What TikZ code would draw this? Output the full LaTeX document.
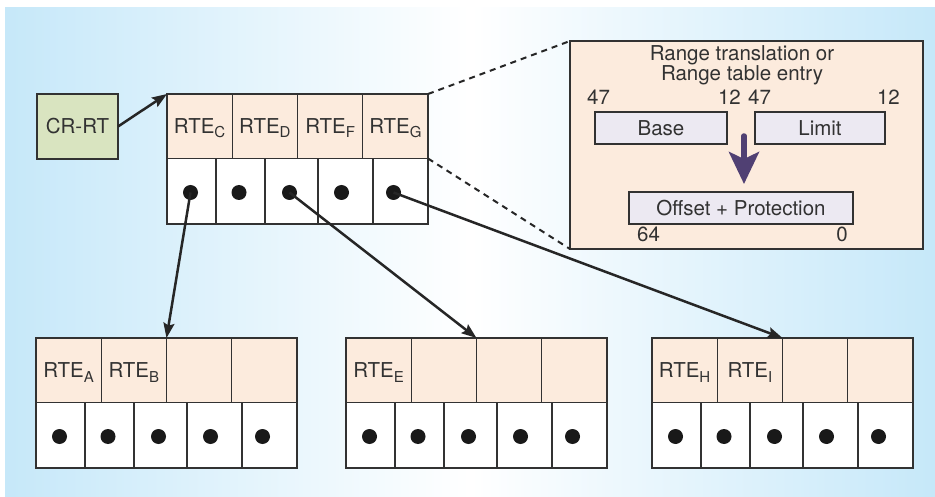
\documentclass[tikz,border=0pt]{standalone}
\usepackage{fontspec}
\setmainfont{TeX Gyre Heros}
\usetikzlibrary{arrows.meta}
\definecolor{bgblue}{RGB}{198,232,249}
\definecolor{peach}{RGB}{252,235,221}
\definecolor{crgreen}{RGB}{217,228,192}
\definecolor{lav}{RGB}{236,233,242}
\definecolor{purp}{RGB}{80,64,115}
\definecolor{ink}{RGB}{50,50,50}
\newcommand{\sbx}[1]{\raisebox{-4.5pt}{\fontsize{15}{15}\selectfont #1}}
\newcommand{\rtab}[7]{%
  \node[topcell] (#1t1) at (#2,#3) {#4};
  \node[topcell] (#1t2) at (#2+65.25,#3) {#5};
  \node[topcell] (#1t3) at (#2+130.5,#3) {#6};
  \node[topcell] (#1t4) at (#2+195.75,#3) {#7};
  \node[botcell, minimum width=49pt] (#1b1) at (#2,#3+64.5) {};
  \node[botcell, minimum width=49pt] (#1b2) at (#2+49,#3+64.5) {};
  \node[botcell, minimum width=53pt] (#1b3) at (#2+98,#3+64.5) {};
  \node[botcell, minimum width=55pt] (#1b4) at (#2+151,#3+64.5) {};
  \node[botcell, minimum width=55pt] (#1b5) at (#2+206,#3+64.5) {};
  \node[dot] (#1d1) at (#2+23.5,#3+98.5) {};
  \node[dot] (#1d2) at (#2+72,#3+98.5) {};
  \node[dot] (#1d3) at (#2+122.5,#3+98.5) {};
  \node[dot] (#1d4) at (#2+174.5,#3+98.5) {};
  \node[dot] (#1d5) at (#2+226.5,#3+98.5) {};
}
\begin{document}
\begin{tikzpicture}[x=1pt,y=-1pt, font=\fontsize{20.5}{20.5}\selectfont, text=ink,
  cell/.style={draw=ink, line width=1.3pt, inner sep=0pt, outer sep=0pt, anchor=north west},
  topcell/.style={cell, fill=peach, minimum width=65.25pt, minimum height=64.5pt, text height=14.5pt, text depth=0pt},
  botcell/.style={cell, fill=white, minimum height=65.5pt},
  dot/.style={circle, fill=black!90, inner sep=0pt, minimum size=15pt},
  conn/.style={-{Stealth[length=15pt,width=11pt,inset=2.5pt]}, line width=2.5pt, black!85},
  dashline/.style={line width=2pt, black!85, dash pattern=on 6pt off 5pt},
  fieldbox/.style={draw=ink, line width=1.3pt, fill=lav, inner sep=0pt, minimum height=32pt},
  lbl/.style={inner sep=0pt},
  parr/.style={-{Stealth[length=32pt,width=30pt,inset=7pt]}, line width=5.5pt, purp, line cap=round}
]
\useasboundingbox (0,0) rectangle (935,497);
\fill[white] (0,0) rectangle (935,497);
\shade[left color=bgblue, right color=bgblue, middle color=white] (5,8) rectangle (935,497);

\node[cell, fill=crgreen, minimum width=81pt, minimum height=65pt] (cr) at (37,94) {CR-RT};

\rtab{m}{167}{94}{RTE\sbx{C}}{RTE\sbx{D}}{RTE\sbx{F}}{RTE\sbx{G}}
\rtab{a}{36}{338}{RTE\sbx{A}}{RTE\sbx{B}}{}{}
\rtab{e}{346}{338}{RTE\sbx{E}}{}{}{}
\rtab{h}{652}{338}{RTE\sbx{H}}{RTE\sbx{I}}{}{}

% detail box
\node[cell, fill=peach, minimum width=353pt, minimum height=208pt] (detail) at (570,41) {};
\node[lbl, anchor=base] (title1) at (742,60.7) {Range translation or};
\node[lbl, anchor=base] (title2) at (742,80.7) {Range table entry};
\node[lbl, anchor=base west] (n47a) at (587,105) {47};
\node[lbl, anchor=base east] (n12a) at (741,105) {12};
\node[lbl, anchor=base west] (n47b) at (748,105) {47};
\node[lbl, anchor=base east] (n12b) at (900,105) {12};
\node[fieldbox, minimum width=132pt] (base) at (661,128) {Base};
\node[fieldbox, minimum width=130pt] (limit) at (820,128) {Limit};
\node[fieldbox, minimum width=224pt] (offset) at (741,208) {Offset + Protection};
\node[lbl, anchor=base west] (n64) at (637,242) {64};
\node[lbl, anchor=base east] (n0) at (848,242) {0};
\coordinate (pa) at (744,136);
\coordinate (pb) at (744,184);
\draw[parr] (pa) -- (pb);

% connectors
\draw[dashline] (mt4.north east) -- (detail.north west);
\draw[dashline] (mt4.south east) -- (detail.south west);
\draw[conn] (cr.east) -- (mt1.north west);
\draw[conn] (md1.center) -- (at2.north east);
\draw[conn] (md3.center) -- (et2.north east);
\draw[conn] (md5.center) -- (ht2.north east);
\end{tikzpicture}
\end{document}
